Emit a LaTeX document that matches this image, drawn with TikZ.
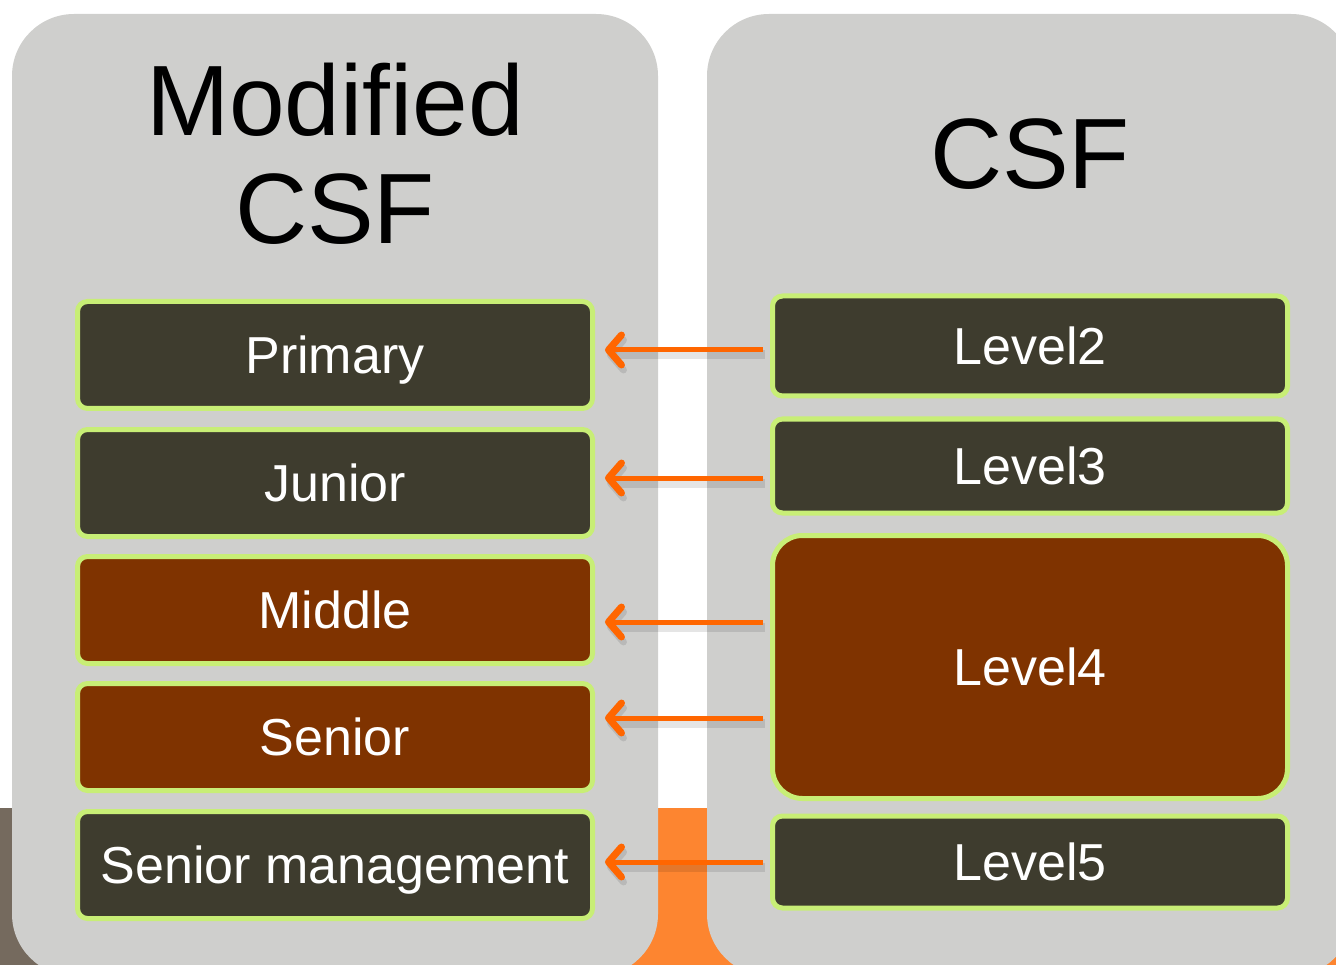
\documentclass[tikz,border=0pt]{standalone}
\usepackage{fontspec}
\setmainfont{Liberation Sans}
\usetikzlibrary{arrows.meta}

\definecolor{panelgrey}{RGB}{207,207,205}
\definecolor{boxdark}{RGB}{62,60,46}
\definecolor{boxbrown}{RGB}{127,51,0}
\definecolor{boxrim}{RGB}{200,238,118}
\definecolor{arroworange}{RGB}{255,102,0}
\definecolor{bandorange}{RGB}{253,133,48}
\definecolor{bandbrown}{RGB}{117,106,94}

\tikzset{
	panel/.style={fill=panelgrey, rounded corners=62pt},
	title/.style={font=\fontsize{100}{108}\selectfont, align=center, inner sep=0pt},
	level/.style={draw=boxrim, line width=5pt, rounded corners=10pt, text=white,
		font=\fontsize{52}{60}\selectfont, text height=37pt, text depth=0pt,
		inner sep=0pt, minimum width=515pt},
	darkbox/.style={level, fill=boxdark, minimum height=107pt},
	brownbox/.style={level, fill=boxbrown, minimum height=107pt},
	mapto/.style={draw=arroworange, line width=5pt,
		-{Straight Barb[length=13pt, width=30pt, line width=7pt, line cap=round, line join=round]},
		preaction={draw=black, opacity=0.10, line width=9pt, transform canvas={shift={(2pt,-5pt)}}},
		shorten >=10pt, shorten <=7pt}
}

\begin{document}
	\begin{tikzpicture}[x=1pt, y=-1pt]
		%%%%% START %%%%%
		\useasboundingbox (0, 0) rectangle (1336, 965);
		\clip (0, 0) rectangle (1336, 965);
		
		\fill[bandbrown] (0, 808) rectangle (330, 965);
		\fill[bandorange] (330, 808) rectangle (1336, 965);
		
		\fill[panel] (12, 14) rectangle (658, 976);
		\fill[panel] (707, 14) rectangle (1353, 976);
		
		\node[title] (modcsf) at (335, 154) {Modified\\CSF};
		\node[title] (csf) at (1030, 154) {CSF};
		
		\node[darkbox] (prim) at (335, 355) {Primary};
		\node[darkbox] (jun) at (335, 483) {Junior};
		\node[brownbox] (mid) at (335, 610) {Middle};
		\node[brownbox] (sen) at (335, 737) {Senior};
		\node[darkbox] (senmgmt) at (335, 865) {Senior management};
		
		\node[darkbox, minimum height=100pt] (lvl2) at (1030, 346) {Level2};
		\node[darkbox, minimum height=94pt] (lvl3) at (1030, 466) {Level3};
		\node[brownbox, minimum height=263pt, rounded corners=30pt] (lvl4) at (1030, 667) {Level4};
		\node[darkbox, minimum height=92pt] (lvl5) at (1030, 862) {Level5};
		
		\draw[mapto] ([yshift=5pt]lvl2.west |- prim.east) -- ([yshift=5pt]prim.east);
		\draw[mapto] ([yshift=5pt]lvl3.west |- jun.east) -- ([yshift=5pt]jun.east);
		\draw[mapto] ([yshift=-12pt]lvl4.west |- mid.east) -- ([yshift=-12pt]mid.east);
		\draw[mapto] ([yshift=19pt]lvl4.west |- sen.east) -- ([yshift=19pt]sen.east);
		\draw[mapto] ([yshift=3pt]lvl5.west |- senmgmt.east) -- ([yshift=3pt]senmgmt.east);
		%%%%% END %%%%%
	\end{tikzpicture}
\end{document}
